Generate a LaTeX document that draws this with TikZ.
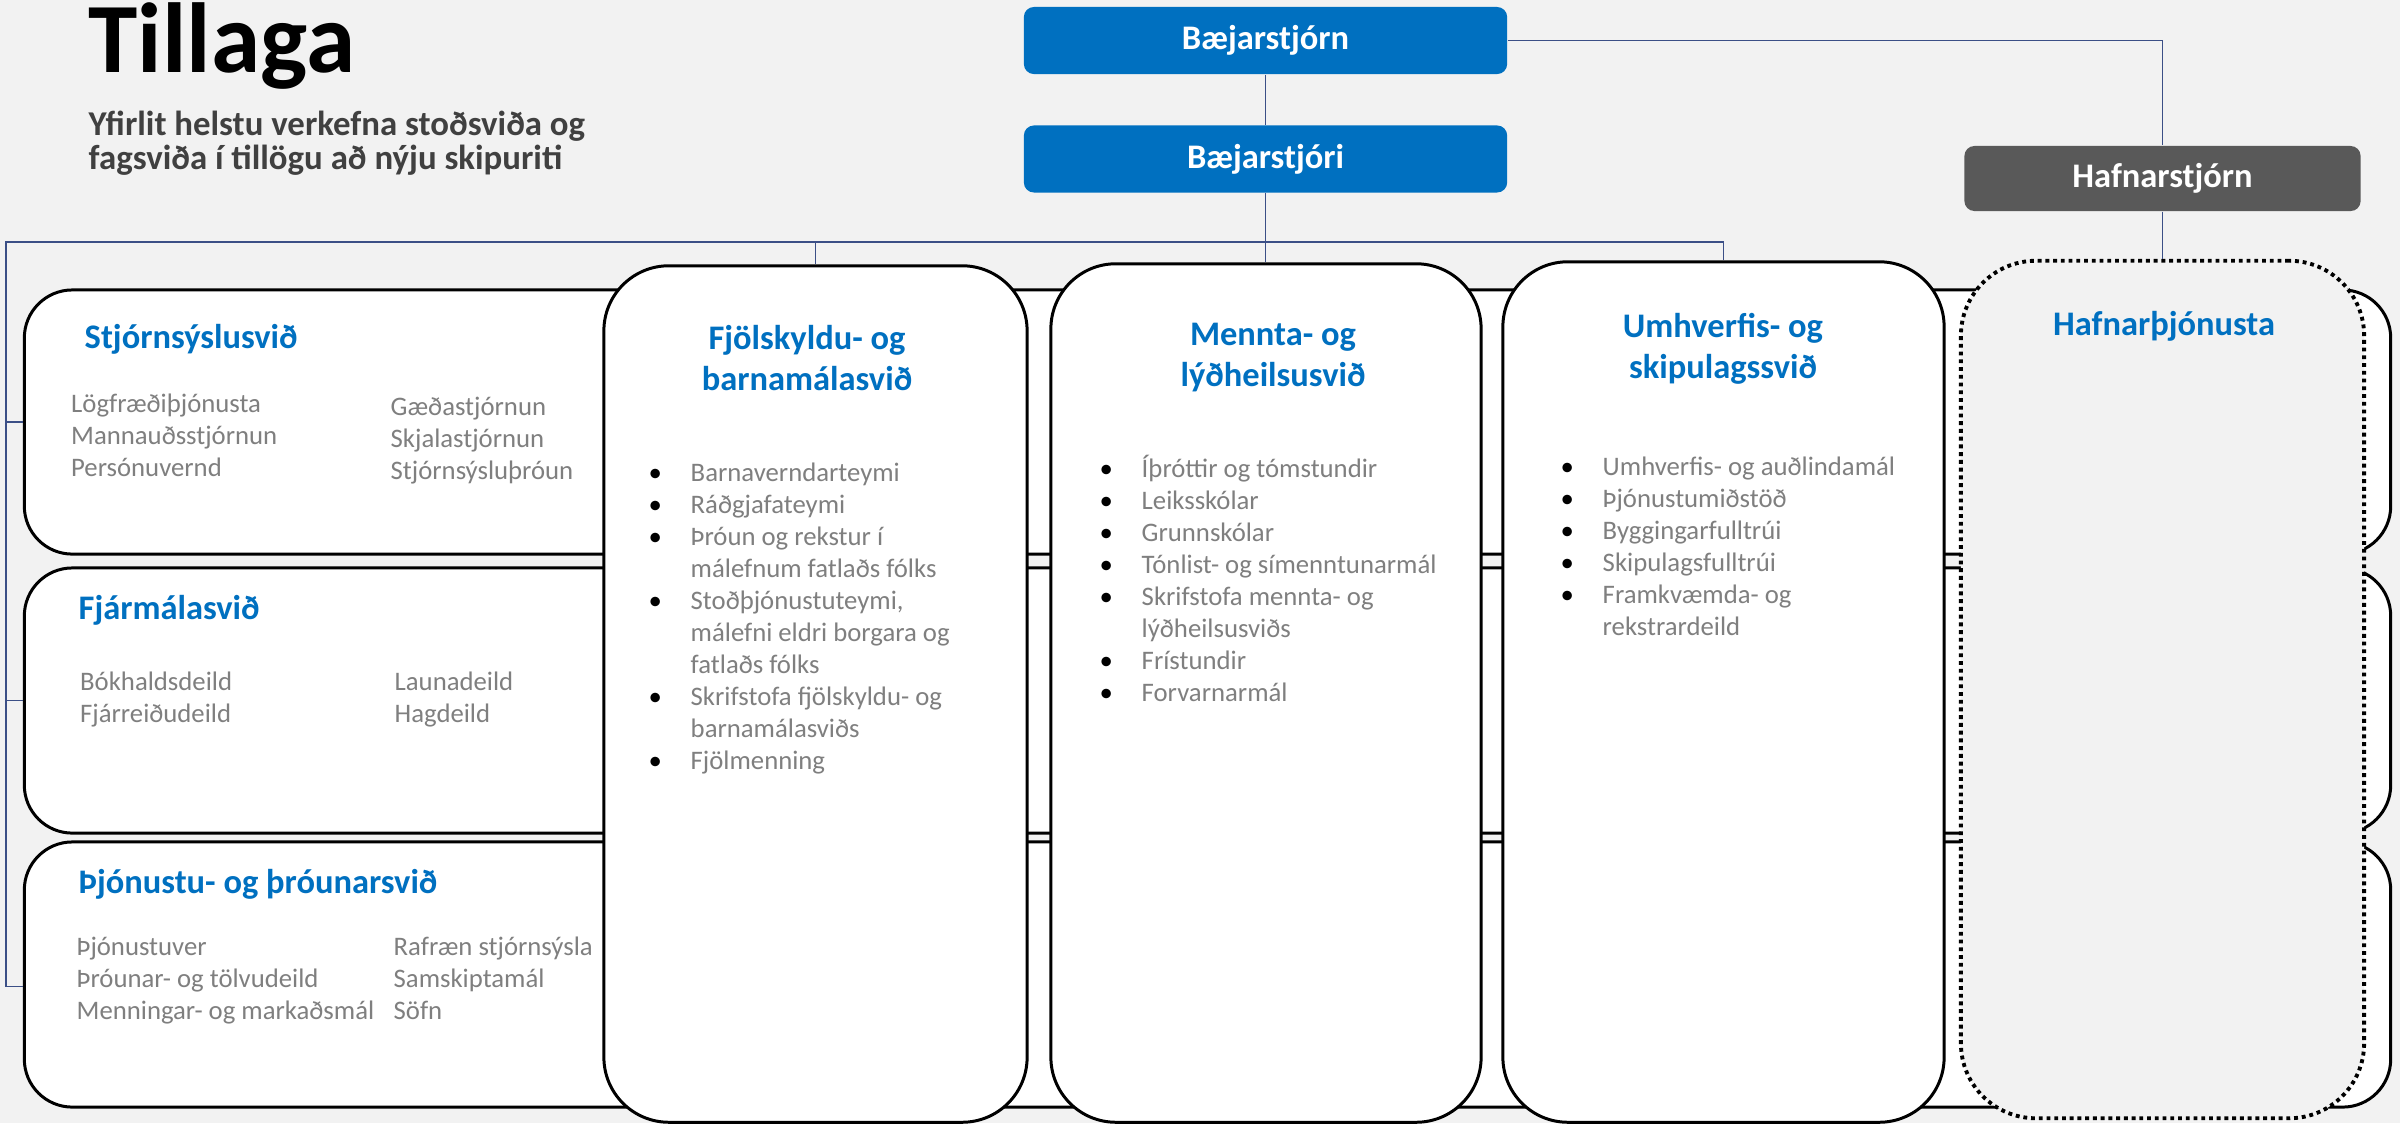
\documentclass[tikz,border=0pt]{standalone}
\usepackage{fontspec}
\setmainfont{Carlito}
\usetikzlibrary{positioning}
\definecolor{bgray}{HTML}{F2F2F2}
\definecolor{mblue}{HTML}{0070C0}
\definecolor{dgray}{HTML}{595959}
\definecolor{tgray}{HTML}{7F7F7F}
\definecolor{sgray}{HTML}{404040}
\definecolor{lnavy}{HTML}{3B4F86}
\newcommand{\listit}[1]{\makebox[0.32cm][l]{\hspace*{-0.10cm}\textcolor{black}{\textbullet}}#1}
\newcommand{\listcont}[1]{\hspace*{0.32cm}#1}
\tikzset{
    rowbox/.style={rectangle, draw=black, line width=0.85pt, fill=white, rounded corners=0.48cm, minimum width=23.65cm, minimum height=2.65cm, inner sep=0pt},
    colbox/.style={rectangle, draw=black, line width=0.85pt, fill=white, rounded corners=0.65cm, inner sep=0pt},
    dotbox/.style={rectangle, draw=black, line width=1.1pt, dash pattern=on 1.1pt off 1.1pt, fill=bgray, rounded corners=0.75cm, inner sep=0pt},
    topbox/.style={rectangle, fill=mblue, rounded corners=0.1cm, minimum width=4.83cm, minimum height=0.67cm, text=white, font=\bfseries\fontsize{9.8pt}{11pt}\selectfont},
    conn/.style={draw=lnavy, line width=0.45pt},
    head/.style={text=mblue, font=\bfseries\fontsize{9.8pt}{11.66pt}\selectfont, inner sep=0pt, align=center},
    items/.style={text=tgray, font=\fontsize{7.6pt}{9.1pt}\selectfont, inner sep=0pt, align=left, anchor=base west}
}
\begin{document}
\begin{tikzpicture}[x=0.01cm, y=-0.01cm]
    \fill[bgray] (0,0) rectangle (2400,1123);
    \useasboundingbox (0,0) rectangle (2400,1123);

    % Title (multi-line nodes sit on their last baseline)
    \node[anchor=base west, inner sep=0pt, font=\bfseries\fontsize{28.3pt}{30pt}\selectfont] (title) at (88,72) {Tillaga};
    \node[anchor=base west, inner sep=0pt, align=left, text=sgray, font=\bfseries\fontsize{9.9pt}{9.39pt}\selectfont] (subtitle) at (88,169) {Yfirlit helstu verkefna stoðsviða og\\fagsviða í tillögu að nýju skipuriti};

    % Top boxes
    \node[topbox] (bsn) at (1265.5,40.5) {Bæjarstjórn};
    \node[topbox, below=0.5cm of bsn] (bsi) {Bæjarstjóri};
    \node[topbox, fill=dgray, minimum width=3.96cm, minimum height=0.65cm] (hfs) at (2162.5,178.5) {Hafnarstjórn};

    % Support divisions (rows)
    \node[rowbox, minimum height=2.64cm] (stj) at (1207.5,422) {};
    \node[rowbox] (fjar) at (1207.5,700.5) {};
    \node[rowbox] (thj) at (1207.5,974.5) {};

    % Professional divisions (columns)
    \node[colbox, minimum width=4.23cm, minimum height=8.56cm] (fjol) at (815.5,694) {};
    \node[colbox, minimum width=4.30cm, minimum height=8.58cm] (menn) at (1266,693) {};
    \node[colbox, minimum width=4.41cm, minimum height=8.60cm] (umh) at (1723.5,692) {};
    \node[dotbox, minimum width=4.03cm, minimum height=8.57cm] (hfn) at (2162.5,689.5) {};

    % Connectors
    \coordinate (busL) at (6,242);
    \draw[conn] (bsn.south) -- (bsi.north);
    \draw[conn] (bsi.south) -- (bsi.south |- menn.north);
    \draw[conn] (umh.north) |- (busL) |- ([yshift=-0.12cm]thj.west);
    \draw[conn] (fjol.north) -- (fjol.north |- busL);
    \draw[conn] (busL |- stj.west) -- (stj.west);
    \draw[conn] (busL |- fjar.west) -- (fjar.west);
    \draw[conn] (bsn.east) -| (hfs.north);
    \draw[conn] (hfs.south) -- (hfn.north);

    % Row texts
    \node[head, anchor=base west] (stjh) at (84,348) {Stjórnsýslusvið};
    \node[items] (stja) at (70.5,476) {Lögfræðiþjónusta\\Mannauðsstjórnun\\Persónuvernd};
    \node[items] (stjb) at (390,479) {Gæðastjórnun\\Skjalastjórnun\\Stjórnsýsluþróun};
    \node[head, anchor=base west] (fjarh) at (78,619) {Fjármálasvið};
    \node[items] (fjara) at (79.5,722) {Bókhaldsdeild\\Fjárreiðudeild};
    \node[items] (fjarb) at (394,722) {Launadeild\\Hagdeild};
    \node[head, anchor=base west] (thjh) at (78,893) {Þjónustu- og þróunarsvið};
    \node[items] (thja) at (76,1019) {Þjónustuver\\Þróunar- og tölvudeild\\Menningar- og markaðsmál};
    \node[items] (thjb) at (393,1019) {Rafræn stjórnsýsla\\Samskiptamál\\Söfn};

    % Column texts
    \node[head, anchor=base] (fjolh) at (807,390) {Fjölskyldu- og\\barnamálasvið};
    \node[items] (fjoll) at (658,769.6) {\listit{Barnaverndarteymi}\\\listit{Ráðgjafateymi}\\\listit{Þróun og rekstur í}\\\listcont{málefnum fatlaðs fólks}\\\listit{Stoðþjónustuteymi,}\\\listcont{málefni eldri borgara og}\\\listcont{fatlaðs fólks}\\\listit{Skrifstofa fjölskyldu- og}\\\listcont{barnamálasviðs}\\\listit{Fjölmenning}};
    \node[head, anchor=base] (mennh) at (1273,386) {Mennta- og\\lýðheilsusvið};
    \node[items] (mennl) at (1109,701) {\listit{Íþróttir og tómstundir}\\\listit{Leiksskólar}\\\listit{Grunnskólar}\\\listit{Tónlist- og símenntunarmál}\\\listit{Skrifstofa mennta- og}\\\listcont{lýðheilsusviðs}\\\listit{Frístundir}\\\listit{Forvarnarmál}};
    \node[head, anchor=base] (umhh) at (1723,378) {Umhverfis- og\\skipulagssvið};
    \node[items] (umhl) at (1570,635) {\listit{Umhverfis- og auðlindamál}\\\listit{Þjónustumiðstöð}\\\listit{Byggingarfulltrúi}\\\listit{Skipulagsfulltrúi}\\\listit{Framkvæmda- og}\\\listcont{rekstrardeild}};
    \node[head, anchor=base] (hfnh) at (2164,335) {Hafnarþjónusta};
\end{tikzpicture}
\end{document}
